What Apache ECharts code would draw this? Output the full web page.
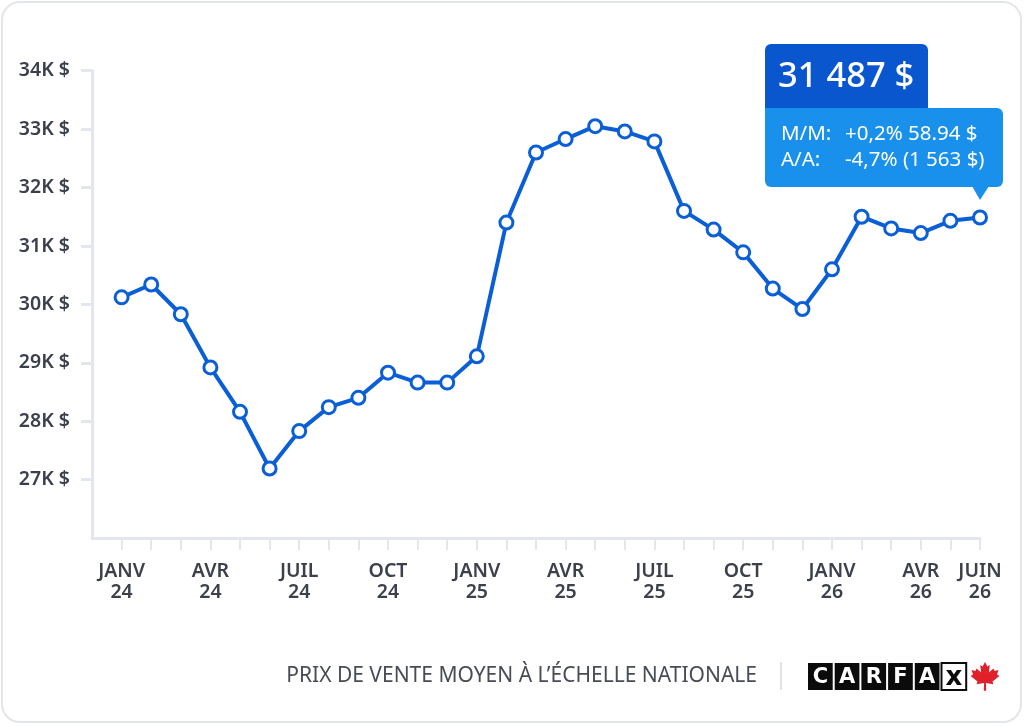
<!DOCTYPE html>
<html>
<head>
<meta charset="utf-8">
<script src="https://cdn.jsdelivr.net/npm/echarts@6/dist/echarts.min.js"></script>
<style>
html,body{margin:0;padding:0;background:#fff;}
#c{width:1024px;height:726px;}
</style>
</head>
<body>
<div id="c"></div>
<script>
// Months Jan 2024 .. Jun 2026
const months = ['2024-01','2024-02','2024-03','2024-04','2024-05','2024-06','2024-07','2024-08','2024-09','2024-10','2024-11','2024-12',
                '2025-01','2025-02','2025-03','2025-04','2025-05','2025-06','2025-07','2025-08','2025-09','2025-10','2025-11','2025-12',
                '2026-01','2026-02','2026-03','2026-04','2026-05','2026-06'];
// Average selling price, thousands of $
const prices = [30.12,30.34,29.83,28.92,28.16,27.19,27.83,28.24,28.40,28.83,28.66,28.66,
                29.11,31.40,32.60,32.83,33.05,32.96,32.79,31.60,31.28,30.89,30.27,29.92,
                30.60,31.50,31.30,31.22,31.43,31.487];
// X tick labels (index into months -> label)
const tickIndex = [0,3,6,9,12,15,18,21,24,27,29];
const tickLabels = ['JANV\n24','AVR\n24','JUIL\n24','OCT\n24','JANV\n25','AVR\n25','JUIL\n25','OCT\n25','JANV\n26','AVR\n26','JUIN\n26'];
const yTicks = [27,28,29,30,31,32,33,34];
// Annotation texts
const headline = '31 487 $';
const mmLabel = 'M/M:', mmValue = '+0,2% 58.94 $';
const aaLabel = 'A/A:', aaValue = '-4,7% (1 563 $)';
const footer = 'PRIX DE VENTE MOYEN À L\u2019ÉCHELLE NATIONALE';
const logoLetters = ['C','A','R','F','A','x'];

const FONT = 'Noto Sans';
const AXIS = '#e3e6ee';
const TXT = '#3b404c';
const BLUE = '#0a5fd6';

const chart = echarts.init(document.getElementById('c'), null, {renderer:'canvas'});

const seriesData = prices.map((v,i)=>[i,v]);

// CARFAX logo pieces
const logo = [];
const lx = 807, ly = 663, bw = 26.7, bh = 27;
logoLetters.forEach((ch,i)=>{
  const last = i === logoLetters.length-1;
  logo.push({type:'rect', shape:{x:lx+i*bw+1, y:ly, width:bw-2, height:bh},
    style:{fill: last ? '#fff' : '#0b0b0b', stroke:'#0b0b0b', lineWidth: last ? 2 : 0}, z:10});
  logo.push({type:'text', x: lx+i*bw+bw/2, y: last ? ly+bh+1 : ly+bh/2+1,
    style:{text:ch, fill: last ? '#0b0b0b' : '#fff', font: last ? '900 26px "DejaVu Sans"' : '900 21px "DejaVu Sans"',
      align:'center', verticalAlign: last ? 'bottom' : 'middle'}, z:11});
});
// maple leaf
const leafPts = [[50,0],[58,15],[66,10],[63,35],[78,22],[82,30],[95,27],[90,42],[98,47],[75,65],[78,74],[53,70],[54,96],[46,96],[47,70],[22,74],[25,65],[2,47],[10,42],[5,27],[18,30],[22,22],[37,35],[34,10],[42,15]];
const leafScale = 0.30, leafX = 970, leafY = 662;
logo.push({type:'polygon', shape:{points: leafPts.map(p=>[leafX+p[0]*leafScale, leafY+p[1]*leafScale])},
  style:{fill:'#e0212b'}, z:10});

const option = {
  animation:false,
  backgroundColor:'#fff',
  grid:{left:92, right:44, top:70.7, bottom:188, containLabel:false},
  xAxis:{
    type:'value', min:-1, max:29, interval:1,
    splitLine:{show:false},
    axisLine:{show:true, onZero:false, lineStyle:{color:AXIS, width:3}},
    axisTick:{show:true, length:12, lineStyle:{color:AXIS, width:2}, customValues: months.map((m,i)=>i)},
    axisLabel:{show:true, customValues: tickIndex, margin:23,
      formatter:(v)=>{const k=tickIndex.indexOf(Math.round(v)); return k>=0?tickLabels[k]:'';},
      color:TXT, fontFamily:FONT, fontSize:19.5, fontWeight:600, lineHeight:21, align:'center'}
  },
  yAxis:{
    type:'value', min:26, max:34, interval:1,
    splitLine:{show:false},
    axisLine:{show:true, onZero:false, lineStyle:{color:AXIS, width:3}},
    axisTick:{show:true, length:11, lineStyle:{color:AXIS, width:3}, customValues: yTicks},
    axisLabel:{customValues: yTicks, margin:22, formatter:(v)=>v+'K $',
      color:TXT, fontFamily:FONT, fontSize:19.5, fontWeight:600}
  },
  series:[{
    type:'line', data:seriesData,
    lineStyle:{color:BLUE, width:4},
    symbol:'circle', symbolSize:13,
    itemStyle:{color:'#fff', borderColor:BLUE, borderWidth:3},
    z:5
  }],
  graphic:[
    // card border
    {type:'rect', shape:{x:2, y:2, width:1019, height:720, r:18}, style:{fill:'none', stroke:'#e2e5ea', lineWidth:2}, z:0},
    // annotation boxes
    {type:'rect', shape:{x:765, y:44, width:163, height:65, r:[6,6,0,0]}, style:{fill:'#0a56cf'}, z:20},
    {type:'rect', shape:{x:765, y:108, width:238, height:79, r:[0,6,6,6]}, style:{fill:'#1990ec'}, z:20},
    {type:'polygon', shape:{points:[[972,186],[989,186],[980,200]]}, style:{fill:'#1990ec'}, z:20},
    {type:'text', x:778, y:77, style:{text:headline, fill:'#fff', font:'500 34.5px "Noto Sans"', verticalAlign:'middle'}, z:21},
    {type:'text', x:781, y:134, style:{text:mmLabel, fill:'#fff', font:'20.5px "Noto Sans"', verticalAlign:'middle'}, z:21},
    {type:'text', x:845, y:134, style:{text:mmValue, fill:'#fff', font:'20.5px "Noto Sans"', verticalAlign:'middle'}, z:21},
    {type:'text', x:781, y:160, style:{text:aaLabel, fill:'#fff', font:'20.5px "Noto Sans"', verticalAlign:'middle'}, z:21},
    {type:'text', x:845, y:160, style:{text:aaValue, fill:'#fff', font:'20.5px "Noto Sans"', verticalAlign:'middle'}, z:21},
    // footer
    {type:'text', x:757, y:676, style:{text:footer, fill:'#474c57', font:'21px "Noto Sans"', align:'right', verticalAlign:'middle'}, z:10},
    {type:'line', shape:{x1:781, y1:662, x2:781, y2:690}, style:{stroke:'#e0e3ea', lineWidth:2}, z:10}
  ].concat(logo)
};
chart.setOption(option);
</script>
</body>
</html>
